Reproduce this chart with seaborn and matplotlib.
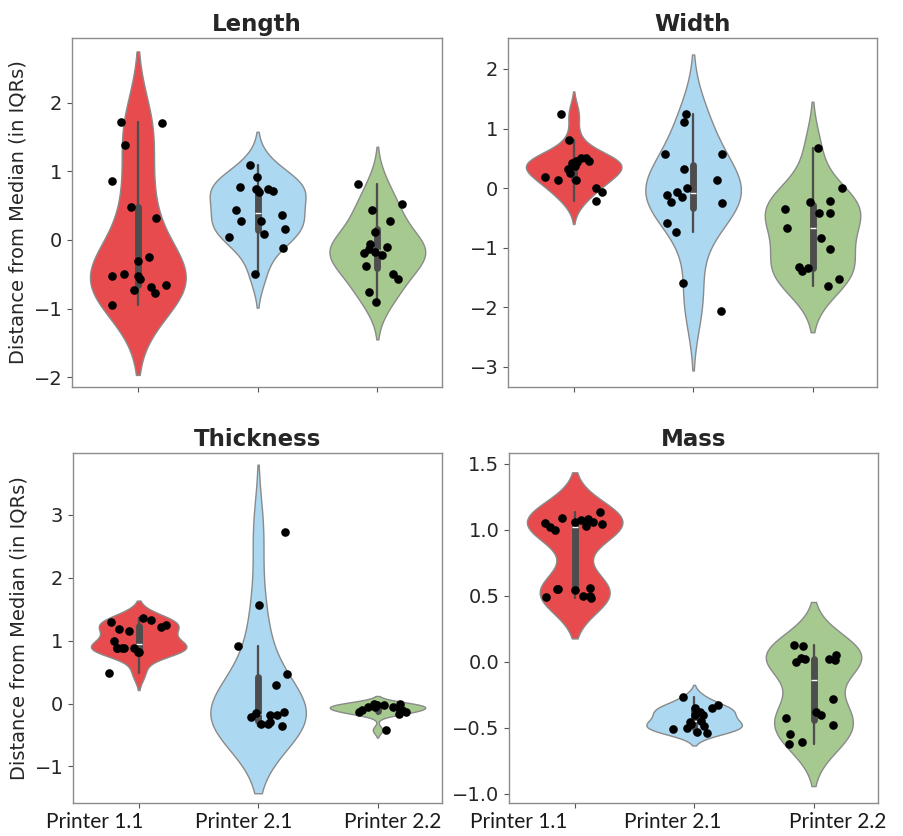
import numpy as np
import pandas as pd
import matplotlib
matplotlib.use("Agg")
import matplotlib.pyplot as plt
from matplotlib.collections import PolyCollection
from matplotlib.ticker import FuncFormatter
import seaborn as sns

# Printers compared in every panel
printers = ["Printer 1.1", "Printer 2.1", "Printer 2.2"]
palette = ["#e84b4d", "#acd8f2", "#a6c98f"]

# Distance from the median, in IQRs, per printer and measurement
length_p11 = [-0.94, -0.77, -0.73, -0.69, -0.65, -0.57, -0.53, -0.52, -0.49,
              -0.30, -0.25, 0.32, 0.48, 0.86, 1.38, 1.71, 1.72]
length_p21 = [-0.50, -0.11, 0.04, 0.08, 0.16, 0.28, 0.28, 0.36, 0.43, 0.70,
              0.71, 0.74, 0.74, 0.77, 0.91, 1.09]
length_p22 = [-0.91, -0.76, -0.57, -0.50, -0.38, -0.22, -0.19, -0.17, -0.13,
              -0.10, -0.06, 0.12, 0.28, 0.43, 0.52, 0.82]

width_p11 = [-0.22, -0.06, 0.00, 0.13, 0.14, 0.19, 0.26, 0.32, 0.37, 0.42,
             0.44, 0.45, 0.45, 0.50, 0.50, 0.81, 1.24]
width_p21 = [-2.07, -1.59, -0.73, -0.59, -0.25, -0.23, -0.15, -0.11, -0.07,
             0.00, 0.13, 0.32, 0.57, 0.57, 1.11, 1.25]
width_p22 = [-1.65, -1.53, -1.40, -1.34, -1.33, -1.03, -0.84, -0.67, -0.42,
             -0.42, -0.35, -0.23, -0.22, 0.00, 0.68]

thickness_p11 = [0.49, 0.82, 0.82, 0.89, 0.89, 0.89, 0.89, 0.89, 1.00, 1.15,
                 1.18, 1.22, 1.25, 1.29, 1.33, 1.36]
thickness_p21 = [-0.36, -0.32, -0.32, -0.29, -0.22, -0.18, -0.18, -0.15, -0.13,
                 0.29, 0.47, 0.92, 1.57, 2.73]
thickness_p22 = [-0.42, -0.16, -0.14, -0.13, -0.11, -0.11, -0.11, -0.06, -0.05,
                 -0.05, -0.03, -0.03, -0.02, -0.01, 0.00]

mass_p11 = [0.48, 0.49, 0.50, 0.50, 0.54, 0.55, 0.55, 0.56, 1.00, 1.02, 1.03,
            1.04, 1.05, 1.06, 1.06, 1.07, 1.08, 1.09, 1.13]
mass_p21 = [-0.54, -0.53, -0.51, -0.50, -0.49, -0.47, -0.46, -0.45, -0.40,
            -0.40, -0.38, -0.35, -0.35, -0.33, -0.27]
mass_p22 = [-0.62, -0.61, -0.55, -0.48, -0.43, -0.40, -0.38, -0.28, 0.00, 0.01,
            0.02, 0.02, 0.03, 0.05, 0.115, 0.13]

panels = [
    ("Length", [length_p11, length_p21, length_p22], (-2.14, 2.94), [-2, -1, 0, 1, 2], 0),
    ("Width", [width_p11, width_p21, width_p22], (-3.34, 2.52), [-3, -2, -1, 0, 1, 2], 0),
    ("Thickness", [thickness_p11, thickness_p21, thickness_p22], (-1.58, 3.98), [-1, 0, 1, 2, 3], 0),
    ("Mass", [mass_p11, mass_p21, mass_p22], (-1.07, 1.58), [-1.0, -0.5, 0.0, 0.5, 1.0, 1.5], 1),
]


def tick_formatter(decimals):
    def fmt(v, _pos):
        return f"{v:.{decimals}f}".replace("-", "\u2212")
    return FuncFormatter(fmt)


sns.set_style("ticks")
plt.rcParams["font.family"] = ["DejaVu Sans"]

fig = plt.figure(figsize=(9.04, 8.36), dpi=100)
W, H = 904, 836
boxes = [(72, 38, 442, 387), (508, 38, 877, 387),
         (73, 453, 442, 803), (509, 453, 878, 803)]

rng_seed = 7
for i, ((title, groups, ylim, yticks, dec), (x0, y0, x1, y1)) in enumerate(zip(panels, boxes)):
    ax = fig.add_axes([x0 / W, 1 - y1 / H, (x1 - x0) / W, (y1 - y0) / H])
    df = pd.DataFrame({
        "printer": np.concatenate([[p] * len(g) for p, g in zip(printers, groups)]),
        "value": np.concatenate(groups),
    })
    sns.violinplot(data=df, x="printer", y="value", hue="printer", order=printers,
                   hue_order=printers, palette=palette, saturation=1,
                   density_norm="width", width=0.8, inner="box", linewidth=1.1,
                   linecolor="#4d4d4d", legend=False, ax=ax)
    for coll in ax.collections:
        if isinstance(coll, PolyCollection):
            coll.set_edgecolor("#8a8a8a")
            coll.set_linewidth(1.0)
    np.random.seed(rng_seed + i)
    sns.stripplot(data=df, x="printer", y="value", order=printers, color="black",
                  size=6.2, jitter=0.25, ax=ax, zorder=5)

    ax.set_xlim(-0.55, 2.54)
    ax.set_ylim(*ylim)
    ax.set_yticks(yticks)
    ax.yaxis.set_major_formatter(tick_formatter(dec))
    ax.set_xticks([0, 1, 2])
    ax.set_xticklabels([])
    ax.set_xlabel("")
    ax.set_ylabel("")
    ax.tick_params(axis="both", colors="#555555", labelcolor="#262626",
                   labelsize=14, length=3.5, width=0.8)
    for sp in ax.spines.values():
        sp.set_color("#8c8c8c")
        sp.set_linewidth(1.0)
    ax.set_title(title, fontsize=16.5, fontweight="bold", pad=5)
    if i % 2 == 0:
        ax.set_ylabel("Distance from Median (in IQRs)", fontsize=14, color="#262626",
                      labelpad=4)

# Printer names along the bottom row
label_x = [95, 244, 393, 519, 673, 838]
for k, x in enumerate(label_x):
    fig.text(x / W, 1 - 822 / H, printers[k % 3], ha="center", va="center",
             fontsize=15, family=["Lato", "DejaVu Sans"], color="#1a1a1a")

fig.savefig("out.png", dpi=100)
